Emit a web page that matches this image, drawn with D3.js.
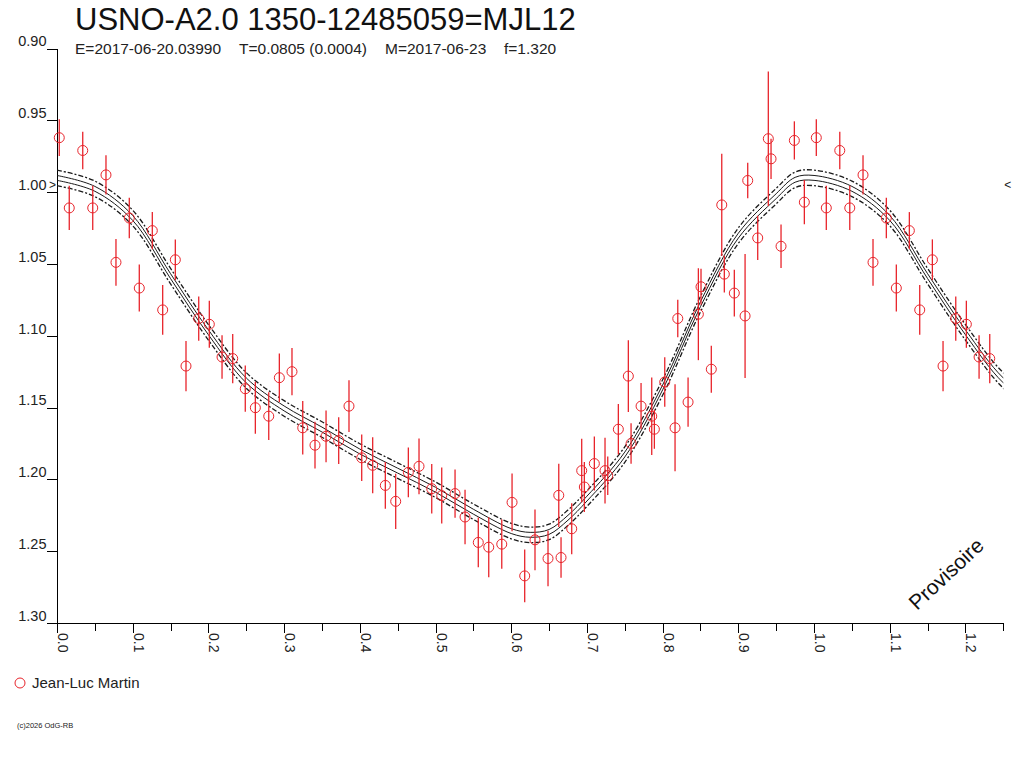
<!DOCTYPE html>
<html>
<head>
<meta charset="utf-8">
<title>USNO-A2.0 1350-12485059=MJL12</title>
<script src="https://cdn.jsdelivr.net/npm/d3@7"></script>
<style>
  body { margin: 0; background: #fff; }
  svg { display: block; font-family: "Liberation Sans", Arial, sans-serif; }
  .axis path, .axis line { stroke: #000; shape-rendering: crispEdges; }
  .axis text { font-size: 14px; fill: #222; font-family: "Liberation Sans", Arial, sans-serif; }
</style>
</head>
<body>
<svg id="viz" width="1024" height="768"></svg>
<script>
// DATA (phase, magnitude, error half-length)
var titleText = "USNO-A2.0 1350-12485059=MJL12";
var subtitleParts = ["E=2017-06-20.03990", "T=0.0805 (0.0004)", "M=2017-06-23", "f=1.320"];
var observerName = "Jean-Luc Martin";
var footerText = "(c)2026 OdG-RB";
var stampText = "Provisoire";

var obsPhase = [0.0030, 0.0162, 0.0340, 0.0472, 0.0647, 0.0779, 0.0955, 0.1087, 0.1259, 0.1396,
    0.1563, 0.1704, 0.1872, 0.2012, 0.2180, 0.2321, 0.2487, 0.2620, 0.2797, 0.2937,
    0.3104, 0.3246, 0.3408, 0.3554, 0.3721, 0.3857, 0.4025, 0.4170, 0.4337, 0.4474,
    0.4641, 0.4782, 0.4950, 0.5082, 0.5258, 0.5390, 0.5565, 0.5703, 0.5875, 0.6011,
    0.6178, 0.6314, 0.6486, 0.6628, 0.6658, 0.6799, 0.6931, 0.6966, 0.7098, 0.7239,
    0.7275, 0.7415, 0.7547, 0.7583, 0.7715, 0.7856, 0.7891, 0.8028, 0.8164, 0.8200,
    0.8336, 0.8472, 0.8507, 0.8643, 0.8781, 0.8815, 0.8947, 0.9089, 0.9124, 0.9256,
    0.9396, 0.9432, 0.9564, 0.9740, 0.9872];
var obsMag = [0.9621, 1.0110, 0.9710, 1.0110, 0.9880, 1.0489, 1.0180, 1.0668, 1.0268, 1.0820,
    1.0471, 1.1211, 1.0880, 1.0920, 1.1148, 1.1159, 1.1369, 1.1501, 1.1560, 1.1292,
    1.1250, 1.1641, 1.1762, 1.1700, 1.1730, 1.1490, 1.1850, 1.1902, 1.2042, 1.2153,
    1.1951, 1.1909, 1.2065, 1.2113, 1.2099, 1.2262, 1.2439, 1.2472, 1.2451, 1.2160,
    1.2672, 1.2421, 1.2551, 1.2111, 1.2544, 1.2344, 1.1939, 1.2053, 1.1890, 1.1939,
    1.1974, 1.1651, 1.1281, 1.1750, 1.1490, 1.1560, 1.1651, 1.1322, 1.1641, 1.0880,
    1.1462, 1.0850, 1.0659, 1.1233, 1.0089, 1.0571, 1.0703, 1.0862, 0.9919, 1.0319,
    0.9628, 0.9768, 1.0377, 0.9640, 1.0070];
var obsErr = [0.0128, 0.0154, 0.0131, 0.0154, 0.0137, 0.0163, 0.0141, 0.0164, 0.0129, 0.0173,
    0.0142, 0.0175, 0.0154, 0.0164, 0.0151, 0.0172, 0.0161, 0.0181, 0.0166, 0.0169,
    0.0164, 0.0186, 0.0163, 0.0180, 0.0163, 0.0180, 0.0162, 0.0195, 0.0163, 0.0192,
    0.0173, 0.0194, 0.0172, 0.0195, 0.0168, 0.0190, 0.0173, 0.0209, 0.0171, 0.0201,
    0.0184, 0.0212, 0.0193, 0.0220, 0.0141, 0.0178, 0.0221, 0.0174, 0.0188, 0.0229,
    0.0134, 0.0175, 0.0250, 0.0141, 0.0161, 0.0270, 0.0136, 0.0172, 0.0303, 0.0131,
    0.0172, 0.0320, 0.0126, 0.0163, 0.0356, 0.0128, 0.0163, 0.0432, 0.0123, 0.0154,
    0.0468, 0.0140, 0.0152, 0.0133, 0.0154];

// fitted curve
var fitPhase = [0.00, 0.05, 0.10, 0.15, 0.20, 0.25, 0.30, 0.35, 0.40, 0.45, 0.50, 0.55,
    0.60, 0.625, 0.65, 0.675, 0.70, 0.75, 0.80, 0.85, 0.90, 0.95, 0.975];
var fitMag = [0.9901, 0.9977, 1.0180, 1.0585, 1.0976, 1.1311, 1.1506, 1.1653, 1.1806, 1.1939, 1.2072, 1.2225,
    1.2360, 1.2386, 1.2366, 1.2267, 1.2134, 1.1827, 1.1360, 1.0780, 1.0303, 1.0028, 0.9914];
var bandInner = 0.0017, bandOuter = 0.0054;  // half widths of solid / dashed envelopes
var meanMag = 0.9955;

var yTicks = [0.90, 0.95, 1.00, 1.05, 1.10, 1.15, 1.20, 1.25, 1.30];
var xTicks = [0.0, 0.1, 0.2, 0.3, 0.4, 0.5, 0.6, 0.7, 0.8, 0.9, 1.0, 1.1, 1.2];
var xMinorTicks = [0.05, 0.15, 0.25, 0.35, 0.45, 0.55, 0.65, 0.75, 0.85, 0.95, 1.05, 1.15, 1.25];
var repeatBelow = 0.24;   // phases shown a second time at phase + 1

(function () {
    'use strict';

    var svg = d3.select("#viz");
    var RED = "#e8242b", INK = "#1a1a1a";

    var xScale = d3.scaleLinear().domain([0, 1.25]).range([57, 1003.3]), //SCALES
        yScale = d3.scaleLinear().domain([0.90, 1.30]).range([48.5, 623]);

    //TITLE
    svg.append("text")
        .attr("x", 75).attr("y", 30)
        .style("font-size", "31px").style("fill", "#111")
        .text(titleText);
    var subX = [75, 239, 385, 504];
    svg.selectAll(".subtitle")
        .data(subtitleParts)
        .enter().append("text")
        .attr("class", "subtitle")
        .attr("x", function (d, i) { return subX[i]; })
        .attr("y", 54)
        .style("font-size", "15.5px").style("fill", "#222")
        .text(function (d) { return d; });

    //AXES
    var yAxis = d3.axisLeft(yScale).tickValues(yTicks).tickSize(10).tickSizeOuter(0)
        .tickFormat(d3.format(".2f"));
    var gy = svg.append("g").attr("class", "y axis")
        .attr("transform", "translate(" + xScale(0) + ",0)")
        .call(yAxis);
    gy.selectAll("text")
        .attr("x", -10.5)
        .attr("dy", "-0.18em")
        .style("font-size", "14.5px");

    var xAxis = d3.axisBottom(xScale).tickValues(xTicks).tickSize(10).tickSizeOuter(0)
        .tickFormat(d3.format(".1f"));
    var gx = svg.append("g").attr("class", "x axis")
        .attr("transform", "translate(0," + yScale(1.30) + ")")
        .call(xAxis);
    gx.selectAll("text")
        .attr("transform", "rotate(90)")
        .attr("x", 10).attr("y", -0.5)
        .attr("dy", "0")
        .style("text-anchor", "start")
        .style("font-size", "14px");
    svg.append("g").attr("class", "x axis minor")
        .attr("transform", "translate(0," + yScale(1.30) + ")")
        .call(d3.axisBottom(xScale).tickValues(xMinorTicks).tickSize(8).tickSizeOuter(0).tickFormat(""))
        .select(".domain").remove();

    //MEAN MARKERS
    svg.append("text").attr("x", xScale(0) - 1).attr("y", yScale(meanMag))
        .attr("dy", "0.3em").style("text-anchor", "end").style("font-size", "12px").style("fill", INK)
        .text(">");
    svg.append("text").attr("x", xScale(1.25) + 1).attr("y", yScale(meanMag))
        .attr("dy", "0.3em").style("font-size", "12px").style("fill", INK)
        .text("<");

    //CLIP
    svg.append("clipPath").attr("id", "plot-clip")
        .append("rect")
        .attr("x", xScale(0)).attr("y", yScale(0.90))
        .attr("width", xScale(1.25) - xScale(0)).attr("height", yScale(1.30) - yScale(0.90));

    //FIT CURVES (one cycle then its repeat)
    var fit = fitPhase.map(function (p, i) { return { p: p, m: fitMag[i] }; });
    fit = fit.concat(fitPhase.filter(function (p) { return p <= 0.30; })
        .map(function (p, i) { return { p: p + 1, m: fitMag[i] }; }));
    var curves = [
        { off: -bandOuter, dash: "5,2,2,2", w: 1.3 },
        { off: -bandInner, dash: null, w: 1 },
        { off: bandInner, dash: null, w: 1 },
        { off: bandOuter, dash: "5,2,2,2", w: 1.3 }
    ];
    var gFit = svg.append("g").attr("clip-path", "url(#plot-clip)");
    curves.forEach(function (c) {
        var line = d3.line()
            .x(function (d) { return xScale(d.p); })
            .y(function (d) { return yScale(d.m + c.off); })
            .curve(d3.curveCatmullRom);
        gFit.append("path")
            .datum(fit)
            .attr("d", line)
            .attr("fill", "none")
            .attr("stroke", INK)
            .attr("stroke-width", c.w)
            .attr("stroke-dasharray", c.dash);
    });

    //OBSERVATIONS
    var obs = obsPhase.map(function (p, i) { return { p: p, m: obsMag[i], e: obsErr[i] }; });
    obs = obs.concat(obs.filter(function (d) { return d.p < repeatBelow; })
        .map(function (d) { return { p: d.p + 1, m: d.m, e: d.e }; }));

    var gObs = svg.append("g");
    gObs.selectAll(".err")
        .data(obs)
        .enter().append("line")
        .attr("class", "err")
        .attr("x1", function (d) { return xScale(d.p); })
        .attr("x2", function (d) { return xScale(d.p); })
        .attr("y1", function (d) { return yScale(d.m - d.e); })
        .attr("y2", function (d) { return yScale(d.m + d.e); })
        .attr("stroke", RED)
        .attr("stroke-width", 1.3);
    gObs.selectAll(".pt")
        .data(obs)
        .enter().append("circle")
        .attr("class", "pt")
        .attr("cx", function (d) { return xScale(d.p); })
        .attr("cy", function (d) { return yScale(d.m); })
        .attr("r", 5)
        .attr("fill", "none")
        .attr("stroke", RED)
        .attr("stroke-width", 1);

    //STAMP
    svg.append("text")
        .attr("transform", "translate(917,611) rotate(-43)")
        .style("font-size", "21px").style("fill", "#111")
        .text(stampText);

    //LEGEND + FOOTER
    svg.append("circle").attr("cx", 20).attr("cy", 683).attr("r", 5)
        .attr("fill", "none").attr("stroke", RED);
    svg.append("text").attr("x", 32).attr("y", 688)
        .style("font-size", "15px").style("fill", "#222")
        .text(observerName);
    svg.append("text").attr("x", 17).attr("y", 728)
        .style("font-size", "7.5px").style("fill", "#222")
        .text(footerText);
}());
</script>
</body>
</html>
